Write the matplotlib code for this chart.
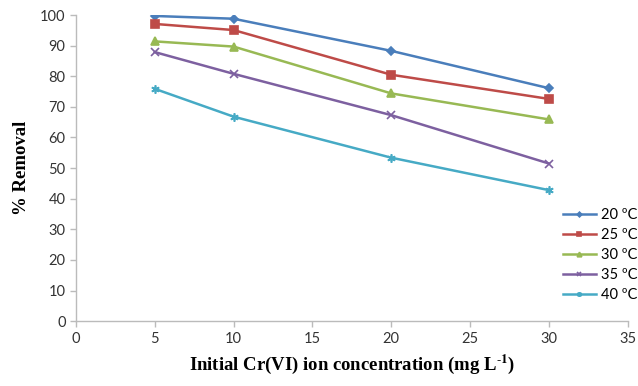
import matplotlib
matplotlib.use("Agg")
import matplotlib.pyplot as plt

# Data
conc = [5, 10, 20, 30]
labels = ["20 ºC", "25 ºC", "30 ºC", "35 ºC", "40 ºC"]
removal_20 = [99.7, 98.8, 88.3, 76.1]
removal_25 = [97.1, 95.1, 80.5, 72.6]
removal_30 = [91.4, 89.7, 74.4, 65.9]
removal_35 = [87.9, 80.8, 67.3, 51.5]
removal_40 = [75.9, 66.8, 53.4, 42.8]

series = [removal_20, removal_25, removal_30, removal_35, removal_40]
colors = ["#4A7EBB", "#BE4B48", "#98B954", "#7D60A0", "#46AAC5"]
markers = ["D", "s", "^", "x", (6, 2, 0)]
msizes = [4, 5.5, 5.5, 5.5, 6]

plt.rcParams["font.family"] = ["Lato", "DejaVu Sans"]
plt.rcParams["mathtext.fontset"] = "stix"

fig = plt.figure(figsize=(6.38, 3.86), dpi=100)
ax = fig.add_axes([0.119, 0.168, 0.865, 0.793])

for y, lab, c, m, ms in zip(series, labels, colors, markers, msizes):
    ax.plot(conc, y, color=c, marker=m, markersize=ms, linewidth=1.8,
            markeredgewidth=1.2, label=lab)

ax.set_xlim(0, 35)
ax.set_ylim(0, 100)
ax.set_xticks(range(0, 36, 5))
ax.set_yticks(range(0, 101, 10))

for side in ["top", "right"]:
    ax.spines[side].set_visible(False)
for side in ["left", "bottom"]:
    ax.spines[side].set_color("#BBBBBB")
    ax.spines[side].set_linewidth(1.0)
ax.tick_params(colors="#BBBBBB", labelcolor="#333333", labelsize=10.5,
               length=4, width=1.0, direction="out")

ax.set_xlabel("Initial Cr(VI) ion concentration (mg L$^{\\text{-}\\mathbf{1}}$)",
              family="Liberation Serif", fontweight="bold", fontsize=13.5, labelpad=5)
ax.set_ylabel("% Removal", family="Liberation Serif", fontweight="bold",
              fontsize=13.5, labelpad=7)

leg = fig.legend(loc="upper left", bbox_to_anchor=(0.882, 0.462), frameon=False,
                 fontsize=10.5, handlelength=2.3, handletextpad=0.3, labelspacing=0.42,
                 borderaxespad=0, borderpad=0, markerscale=0.6)

fig.savefig("out.png", dpi=100)
